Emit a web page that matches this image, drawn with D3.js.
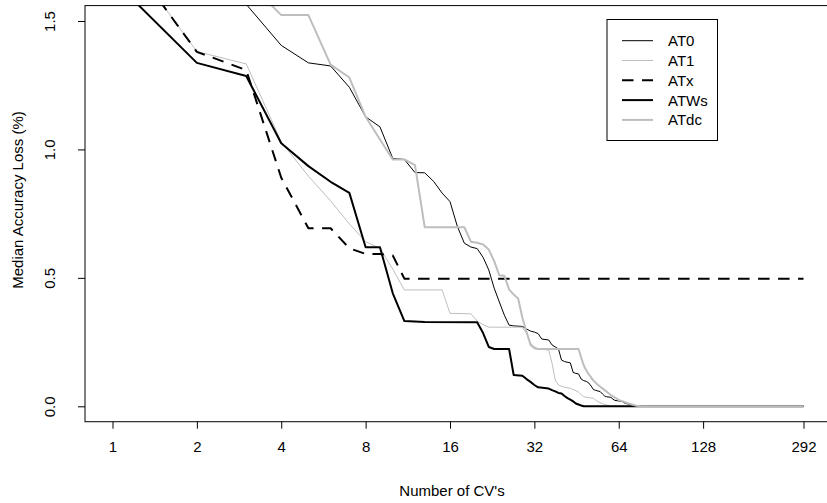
<!DOCTYPE html>
<html>
<head>
<meta charset="utf-8">
<script src="https://cdn.jsdelivr.net/npm/d3@7"></script>
<style>
  body { margin: 0; background: #fff; }
  text { font-family: "Liberation Sans", Arial, sans-serif; font-size: 15px; fill: #000; }
</style>
</head>
<body>
<div id="chart"></div>
<script>
// values (n = number of CV's, v = median accuracy loss %)
var at0N = [1, 2, 3, 4, 5, 6, 7, 8, 9, 10, 11, 12, 13, 14, 15, 16, 17, 18, 19, 20, 21, 22, 23, 24, 25, 26, 27, 29, 30, 31, 32, 33, 34, 36, 37, 38, 39, 40, 41, 43, 44, 45, 46, 47, 48, 49, 50, 51, 52, 53, 55, 56, 57, 58, 60, 61, 62, 64, 66, 67, 69, 71, 74, 292];
var at0V = [2.0, 1.75, 1.565, 1.405, 1.337, 1.325, 1.242, 1.127, 1.088, 0.965, 0.961, 0.91, 0.909, 0.875, 0.83, 0.797, 0.70, 0.635, 0.62, 0.614, 0.58, 0.531, 0.46, 0.406, 0.355, 0.316, 0.313, 0.311, 0.301, 0.293, 0.289, 0.283, 0.262, 0.258, 0.239, 0.231, 0.223, 0.18, 0.174, 0.169, 0.132, 0.128, 0.126, 0.106, 0.1, 0.097, 0.091, 0.079, 0.065, 0.062, 0.057, 0.048, 0.04, 0.037, 0.035, 0.028, 0.023, 0.021, 0.018, 0.013, 0.009, 0.005, 0, 0];

var at1N = [1, 2, 3, 4, 5, 6, 7, 8, 9, 10, 11, 15, 16, 19, 20, 21, 22, 29, 30, 31, 32, 33, 36, 37, 38, 39, 40, 41, 43, 45, 46, 47, 48, 50, 52, 53, 54, 56, 58, 61, 292];
var at1V = [1.83, 1.381, 1.333, 1.03, 0.896, 0.80, 0.71, 0.641, 0.615, 0.534, 0.453, 0.453, 0.362, 0.36, 0.332, 0.318, 0.308, 0.308, 0.284, 0.245, 0.232, 0.223, 0.219, 0.167, 0.102, 0.083, 0.078, 0.074, 0.07, 0.061, 0.055, 0.045, 0.037, 0.034, 0.031, 0.024, 0.018, 0.01, 0.005, 0, 0];

var atxN = [1, 2, 3, 4, 5, 6, 7, 8, 9, 10, 11, 292];
var atxV = [1.83, 1.38, 1.309, 0.89, 0.693, 0.693, 0.615, 0.593, 0.593, 0.587, 0.497, 0.497];

var atwsN = [1, 2, 3, 4, 5, 6, 7, 8, 9, 10, 11, 13, 20, 21, 22, 23, 26, 27, 29, 30, 31, 32, 33, 36, 37, 38, 39, 40, 41, 42, 43, 44, 45, 46, 47, 48, 292];
var atwsV = [1.662, 1.337, 1.286, 1.024, 0.935, 0.874, 0.831, 0.619, 0.619, 0.44, 0.332, 0.328, 0.327, 0.285, 0.231, 0.223, 0.223, 0.122, 0.119, 0.106, 0.095, 0.083, 0.074, 0.069, 0.063, 0.058, 0.052, 0.05, 0.04, 0.032, 0.026, 0.019, 0.011, 0.007, 0.003, 0, 0];

var atdcN = [1, 2, 3, 4, 5, 6, 7, 8, 9, 10, 11, 12, 13, 18, 19, 20, 21, 22, 23, 24, 25, 26, 27, 28, 29, 30, 31, 32, 33, 46, 47, 48, 49, 50, 52, 54, 57, 60, 64, 69, 74, 77, 292];
var atdcV = [2.0, 1.8, 1.66, 1.523, 1.523, 1.33, 1.28, 1.127, 1.039, 0.961, 0.961, 0.939, 0.697, 0.697, 0.641, 0.637, 0.63, 0.61, 0.565, 0.51, 0.508, 0.455, 0.435, 0.42, 0.345, 0.29, 0.24, 0.226, 0.223, 0.223, 0.19, 0.16, 0.14, 0.125, 0.1, 0.083, 0.063, 0.044, 0.025, 0.012, 0.002, 0, 0];

var seriesNames = ["AT0", "AT1", "ATx", "ATWs", "ATdc"];
var xTicks = [1, 2, 4, 8, 16, 32, 64, 128, 292];
var yTicks = [0, 0.5, 1.0, 1.5];

var seriesData = [d3.zip(at0N, at0V), d3.zip(at1N, at1V), d3.zip(atxN, atxV), d3.zip(atwsN, atwsV), d3.zip(atdcN, atdcV)];

// line styles, same order as seriesNames
var styles = [
    { color: "#000", width: 1, dash: null },
    { color: "#bebebe", width: 1, dash: null },
    { color: "#000", width: 2, dash: "11.5,8.5" },
    { color: "#000", width: 2, dash: null },
    { color: "#bebebe", width: 2, dash: null }
];

var width = 827,
    height = 503;

var x = d3.scaleLog().base(2)
    .domain([1, 292])
    .range([112.5, 803.5]);

var y = d3.scaleLinear()
    .domain([0, 1.5])
    .range([406.3, 21]);

// plot box, R style 4% padding
var boxLeft = 85,
    boxRight = 831,
    boxTop = y(1.56),
    boxBottom = y(-0.06);

var svg = d3.select("#chart").append("svg")
    .attr("width", width)
    .attr("height", height);

svg.append("clipPath")
    .attr("id", "plotclip")
    .append("rect")
    .attr("x", boxLeft)
    .attr("y", boxTop)
    .attr("width", boxRight - boxLeft)
    .attr("height", boxBottom - boxTop);

var line = d3.line()
    .x(function(d) { return x(d[0]); })
    .y(function(d) { return y(d[1]); });

svg.append("g")
    .attr("clip-path", "url(#plotclip)")
    .selectAll("path")
    .data(seriesData)
    .enter().append("path")
    .attr("d", line)
    .attr("fill", "none")
    .attr("stroke", function(d, i) { return styles[i].color; })
    .attr("stroke-width", function(d, i) { return styles[i].width; })
    .attr("stroke-dasharray", function(d, i) { return styles[i].dash; })
    .attr("stroke-linejoin", "round");

// box
svg.append("rect")
    .attr("x", boxLeft)
    .attr("y", boxTop)
    .attr("width", boxRight - boxLeft)
    .attr("height", boxBottom - boxTop)
    .attr("fill", "none")
    .attr("stroke", "#000")
    .attr("stroke-width", 1);

// x axis
var xAxis = svg.append("g")
    .attr("transform", "translate(0," + boxBottom + ")")
    .call(d3.axisBottom(x)
        .tickValues(xTicks)
        .tickFormat(d3.format("d"))
        .tickSize(7)
        .tickPadding(12.5));
xAxis.select(".domain").remove();
xAxis.selectAll("text").style("font-size", "15px").attr("fill", "#000");

// y axis, labels parallel to the axis
var yAxis = svg.append("g")
    .attr("transform", "translate(" + boxLeft + ",0)")
    .call(d3.axisLeft(y)
        .tickValues(yTicks)
        .tickFormat(d3.format(".1f"))
        .tickSize(7));
yAxis.select(".domain").remove();
yAxis.selectAll("text")
    .attr("transform", "rotate(-90)")
    .attr("x", 0)
    .attr("y", -30)
    .attr("dy", 0)
    .attr("text-anchor", "middle")
    .attr("fill", "#000")
    .style("font-size", "15px");

svg.append("text")
    .attr("x", 452)
    .attr("y", 496)
    .attr("text-anchor", "middle")
    .text("Number of CV's");

svg.append("text")
    .attr("transform", "translate(23,200) rotate(-90)")
    .attr("text-anchor", "middle")
    .text("Median Accuracy Loss (%)");

// legend
var legend = svg.append("g")
    .attr("transform", "translate(607,19.5)");

legend.append("rect")
    .attr("width", 110.5)
    .attr("height", 121)
    .attr("fill", "#fff")
    .attr("stroke", "#000");

var items = legend.selectAll(".item")
    .data(seriesNames)
    .enter().append("g")
    .attr("class", "item")
    .attr("transform", function(d, i) { return "translate(0," + (21.2 + i * 19.8) + ")"; });

items.append("line")
    .attr("x1", 15)
    .attr("x2", 46)
    .attr("stroke", function(d, i) { return styles[i].color; })
    .attr("stroke-width", function(d, i) { return styles[i].width; })
    .attr("stroke-dasharray", function(d, i) { return styles[i].dash; });

items.append("text")
    .attr("x", 61)
    .attr("dy", "0.36em")
    .text(function(d) { return d; });
</script>
</body>
</html>
